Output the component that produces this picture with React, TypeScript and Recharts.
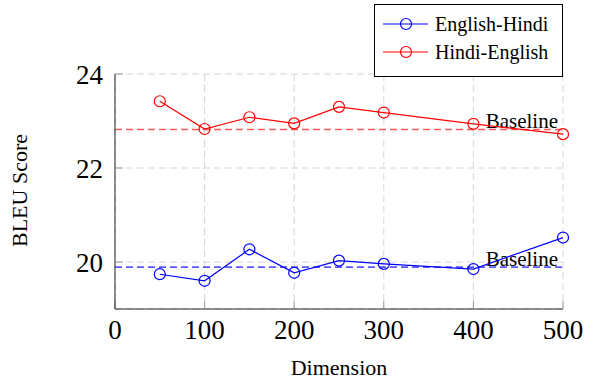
import { CSSProperties } from 'react';
import {
  LineChart,
  Line,
  XAxis,
  YAxis,
  CartesianGrid,
  ReferenceLine,
} from 'recharts';

// values
const dimensions = [50, 100, 150, 200, 250, 300, 400, 500];
const englishHindi = [19.74, 19.6, 20.27, 19.77, 20.03, 19.96, 19.85, 20.52];
const hindiEnglish = [23.42, 22.83, 23.08, 22.95, 23.3, 23.18, 22.94, 22.72];
const englishHindiBaseline = 19.89;
const hindiEnglishBaseline = 22.82;
const xTicks = [0, 100, 200, 300, 400, 500];
const yTicks = [20, 22, 24];

const series = [
  { key: 'enHi', name: 'English-Hindi', color: '#0000ff' },
  { key: 'hiEn', name: 'Hindi-English', color: '#ff0000' },
];

const FONT = '"Liberation Serif", "Times New Roman", serif';

const data = dimensions.map((dim, i) => ({
  dim,
  enHi: englishHindi[i],
  hiEn: hindiEnglish[i],
}));

function BaselineLabel(props: any) {
  const { viewBox } = props;
  if (!viewBox) return null;
  return (
    <text
      x={viewBox.x + viewBox.width - 5}
      y={viewBox.y - 1.5}
      textAnchor="end"
      fontSize={21}
      fontFamily={FONT}
      fill="#000"
    >
      Baseline
    </text>
  );
}

function YTitle(props: any) {
  const { viewBox } = props;
  if (!viewBox) return null;
  const cx = 27;
  const cy = viewBox.y + viewBox.height / 2 - 1;
  return (
    <text
      x={cx}
      y={cy}
      transform={`rotate(-90 ${cx} ${cy})`}
      textAnchor="middle"
      fontSize={22}
      fontFamily={FONT}
      fill="#000"
    >
      BLEU Score
    </text>
  );
}

function XTitle(props: any) {
  const { viewBox } = props;
  if (!viewBox) return null;
  return (
    <text
      x={viewBox.x + viewBox.width / 2}
      y={375}
      textAnchor="middle"
      fontSize={22}
      fontFamily={FONT}
      fill="#000"
    >
      Dimension
    </text>
  );
}

const legendBox: CSSProperties = {
  position: 'absolute',
  left: 374,
  top: 4,
  width: 187,
  height: 66,
  border: '1px solid #000',
  background: '#fff',
  fontFamily: FONT,
  fontSize: 20,
  paddingTop: 5,
  boxSizing: 'content-box',
};

export default function App() {
  const tickStyle = { fontSize: 27, fontFamily: FONT, fill: '#000' };
  return (
    <div style={{ position: 'absolute', left: 0, top: 0, width: 596, height: 385, background: '#fff' }}>
      <LineChart
        width={596}
        height={385}
        data={data}
        margin={{ top: 74, right: 33, bottom: 0, left: 15 }}
      >
        <CartesianGrid stroke="#d6d6d6" strokeDasharray="7 4" />
        <XAxis
          dataKey="dim"
          type="number"
          domain={[0, 500]}
          ticks={xTicks}
          height={76}
          tickSize={-8}
          tickMargin={19}
          axisLine={{ stroke: '#222' }}
          tickLine={{ stroke: '#999' }}
          tick={tickStyle}
          label={<XTitle />}
        />
        <XAxis
          xAxisId="top"
          orientation="top"
          type="number"
          domain={[0, 500]}
          ticks={xTicks}
          height={0}
          tickSize={-8}
          axisLine={{ stroke: '#222' }}
          tickLine={{ stroke: '#999' }}
          tick={false}
        />
        <YAxis
          type="number"
          domain={[19, 24]}
          ticks={yTicks}
          width={100}
          tickSize={-8}
          tickMargin={20}
          axisLine={{ stroke: '#222' }}
          tickLine={{ stroke: '#999' }}
          tick={tickStyle}
          label={<YTitle />}
        />
        <YAxis
          yAxisId="right"
          orientation="right"
          type="number"
          domain={[19, 24]}
          ticks={yTicks}
          width={0}
          tickSize={-8}
          axisLine={{ stroke: '#222' }}
          tickLine={{ stroke: '#999' }}
          tick={false}
        />
        <ReferenceLine
          y={hindiEnglishBaseline}
          stroke="#ff0000"
          strokeOpacity={0.65}
          strokeWidth={1.6}
          strokeDasharray="7 4"
          label={<BaselineLabel />}
        />
        <ReferenceLine
          y={englishHindiBaseline}
          stroke="#0000ff"
          strokeOpacity={0.65}
          strokeWidth={1.6}
          strokeDasharray="7 4"
          label={<BaselineLabel />}
        />
        {series.map((s) => (
          <Line
            key={s.key}
            dataKey={s.key}
            name={s.name}
            type="linear"
            stroke={s.color}
            strokeWidth={1.2}
            dot={{ r: 5.5, fill: 'none', stroke: s.color, strokeWidth: 1.2 }}
            isAnimationActive={false}
          />
        ))}
      </LineChart>
      <div style={legendBox}>
        {series.map((s) => (
          <div key={s.key} style={{ display: 'flex', alignItems: 'center', height: 28 }}>
            <svg width={60} height={28} style={{ flex: 'none' }}>
              <line x1={8} y1={14} x2={53} y2={14} stroke={s.color} strokeWidth={1.2} />
              <circle cx={31} cy={14} r={5.5} fill="none" stroke={s.color} strokeWidth={1.2} />
            </svg>
            <span style={{ color: '#000', lineHeight: '28px' }}>{s.name}</span>
          </div>
        ))}
      </div>
    </div>
  );
}
